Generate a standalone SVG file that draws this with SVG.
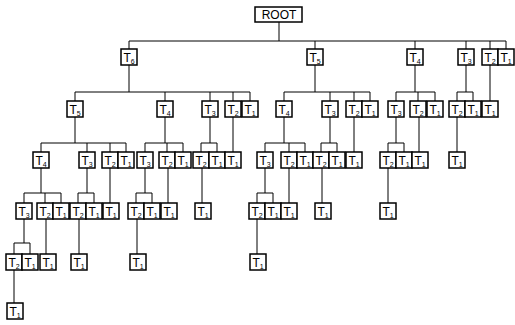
<svg xmlns="http://www.w3.org/2000/svg" width="515" height="325" viewBox="0 0 515 325">
<style>
.b{fill:#fff;stroke:#000;stroke-width:1.5}
.t{font-family:"Liberation Sans",Arial,sans-serif;font-size:12px;text-anchor:middle;fill:#000}
.s{font-size:7px}
.c{fill:none;stroke:#000;stroke-width:1}
</style>
<rect width="515" height="325" fill="#fff"/>
<g id="connectors">
<path class="c" d="M279 22V41M129 41H506M129 41V49M315 41V49M415 41V49M466 41V49M490 41V49M506 41V49"/>
<path class="c" d="M129 65V92M75 92H250M75 92V101M165 92V101M210 92V101M233 92V101M250 92V101
M315 65V92M284 92H370M284 92V101M330 92V101M354 92V101M370 92V101
M415 65V92M396 92H435M396 92V101M418 92V101M435 92V101
M466 65V92M457 92H473M457 92V101M473 92V101
M490 65V101"/>
<path class="c" d="M75 117V143M41 143H126M41 143V152M87 143V152M110 143V152M126 143V152
M165 117V143M145 143H183M145 143V152M167 143V152M183 143V152
M210 117V143M201 143H217M201 143V152M217 143V152
M233 117V152
M284 117V143M265 143H305M265 143V152M289 143V152M305 143V152
M330 117V143M321 143H337M321 143V152M337 143V152
M354 117V152
M396 117V143M388 143H404M388 143V152M404 143V152
M419 117V152
M457 117V152"/>
<path class="c" d="M41 168V193M24 193H61M24 193V203M45 193V203M61 193V203
M87 168V193M78 193H94M78 193V203M94 193V203
M110 168V203
M145 168V193M136 193H152M136 193V203M152 193V203
M168 168V203
M202 168V203
M265 168V193M257 193H273M257 193V203M273 193V203
M289 168V203
M322 168V203
M388 168V203"/>
<path class="c" d="M24 219V243M14 243H30M14 243V254M30 243V254
M46 219V254
M79 219V254
M137 219V254
M257 219V254
M14 270V303"/>
</g>
<g id="root"><rect class="b" x="255" y="7" width="47" height="15"/><text class="t" x="279" y="19" font-size="11">ROOT</text></g>
<!-- level 1 -->
<g id="a6"><rect class="b" x="121" y="49" width="16" height="16"/><text class="t" x="129" y="61.5">T<tspan class="s" dy="2">6</tspan></text></g>
<g id="a5"><rect class="b" x="307" y="49" width="16" height="16"/><text class="t" x="315" y="61.5">T<tspan class="s" dy="2">5</tspan></text></g>
<g id="a4"><rect class="b" x="407" y="49" width="16" height="16"/><text class="t" x="415" y="61.5">T<tspan class="s" dy="2">4</tspan></text></g>
<g id="a3"><rect class="b" x="458" y="49" width="16" height="16"/><text class="t" x="466" y="61.5">T<tspan class="s" dy="2">3</tspan></text></g>
<g id="a2"><rect class="b" x="482" y="49" width="16" height="16"/><text class="t" x="490" y="61.5">T<tspan class="s" dy="2">2</tspan></text></g>
<g id="a1"><rect class="b" x="498" y="49" width="16" height="16"/><text class="t" x="506" y="61.5">T<tspan class="s" dy="2">1</tspan></text></g>
<!-- level 2 -->
<g id="a65"><rect class="b" x="67" y="101" width="16" height="16"/><text class="t" x="75" y="113.5">T<tspan class="s" dy="2">5</tspan></text></g>
<g id="a64"><rect class="b" x="157" y="101" width="16" height="16"/><text class="t" x="165" y="113.5">T<tspan class="s" dy="2">4</tspan></text></g>
<g id="a63"><rect class="b" x="202" y="101" width="16" height="16"/><text class="t" x="210" y="113.5">T<tspan class="s" dy="2">3</tspan></text></g>
<g id="a62"><rect class="b" x="225" y="101" width="16" height="16"/><text class="t" x="233" y="113.5">T<tspan class="s" dy="2">2</tspan></text></g>
<g id="a61"><rect class="b" x="242" y="101" width="16" height="16"/><text class="t" x="250" y="113.5">T<tspan class="s" dy="2">1</tspan></text></g>
<g id="a54"><rect class="b" x="276" y="101" width="16" height="16"/><text class="t" x="284" y="113.5">T<tspan class="s" dy="2">4</tspan></text></g>
<g id="a53"><rect class="b" x="322" y="101" width="16" height="16"/><text class="t" x="330" y="113.5">T<tspan class="s" dy="2">3</tspan></text></g>
<g id="a52"><rect class="b" x="346" y="101" width="16" height="16"/><text class="t" x="354" y="113.5">T<tspan class="s" dy="2">2</tspan></text></g>
<g id="a51"><rect class="b" x="362" y="101" width="16" height="16"/><text class="t" x="370" y="113.5">T<tspan class="s" dy="2">1</tspan></text></g>
<g id="a43"><rect class="b" x="388" y="101" width="16" height="16"/><text class="t" x="396" y="113.5">T<tspan class="s" dy="2">3</tspan></text></g>
<g id="a42"><rect class="b" x="410" y="101" width="16" height="16"/><text class="t" x="418" y="113.5">T<tspan class="s" dy="2">2</tspan></text></g>
<g id="a41"><rect class="b" x="427" y="101" width="16" height="16"/><text class="t" x="435" y="113.5">T<tspan class="s" dy="2">1</tspan></text></g>
<g id="a32"><rect class="b" x="449" y="101" width="16" height="16"/><text class="t" x="457" y="113.5">T<tspan class="s" dy="2">2</tspan></text></g>
<g id="a31"><rect class="b" x="465" y="101" width="16" height="16"/><text class="t" x="473" y="113.5">T<tspan class="s" dy="2">1</tspan></text></g>
<g id="a21"><rect class="b" x="482" y="101" width="16" height="16"/><text class="t" x="490" y="113.5">T<tspan class="s" dy="2">1</tspan></text></g>
<!-- level 3 -->
<g id="a654"><rect class="b" x="33" y="152" width="16" height="16"/><text class="t" x="41" y="164.5">T<tspan class="s" dy="2">4</tspan></text></g>
<g id="a653"><rect class="b" x="79" y="152" width="16" height="16"/><text class="t" x="87" y="164.5">T<tspan class="s" dy="2">3</tspan></text></g>
<g id="a652"><rect class="b" x="102" y="152" width="16" height="16"/><text class="t" x="110" y="164.5">T<tspan class="s" dy="2">2</tspan></text></g>
<g id="a651"><rect class="b" x="118" y="152" width="16" height="16"/><text class="t" x="126" y="164.5">T<tspan class="s" dy="2">1</tspan></text></g>
<g id="a643"><rect class="b" x="137" y="152" width="16" height="16"/><text class="t" x="145" y="164.5">T<tspan class="s" dy="2">3</tspan></text></g>
<g id="a642"><rect class="b" x="159" y="152" width="16" height="16"/><text class="t" x="167" y="164.5">T<tspan class="s" dy="2">2</tspan></text></g>
<g id="a641"><rect class="b" x="175" y="152" width="16" height="16"/><text class="t" x="183" y="164.5">T<tspan class="s" dy="2">1</tspan></text></g>
<g id="a632"><rect class="b" x="193" y="152" width="16" height="16"/><text class="t" x="201" y="164.5">T<tspan class="s" dy="2">2</tspan></text></g>
<g id="a631"><rect class="b" x="209" y="152" width="16" height="16"/><text class="t" x="217" y="164.5">T<tspan class="s" dy="2">1</tspan></text></g>
<g id="a621"><rect class="b" x="225" y="152" width="16" height="16"/><text class="t" x="233" y="164.5">T<tspan class="s" dy="2">1</tspan></text></g>
<g id="a543"><rect class="b" x="257" y="152" width="16" height="16"/><text class="t" x="265" y="164.5">T<tspan class="s" dy="2">3</tspan></text></g>
<g id="a542"><rect class="b" x="281" y="152" width="16" height="16"/><text class="t" x="289" y="164.5">T<tspan class="s" dy="2">2</tspan></text></g>
<g id="a541"><rect class="b" x="297" y="152" width="16" height="16"/><text class="t" x="305" y="164.5">T<tspan class="s" dy="2">1</tspan></text></g>
<g id="a532"><rect class="b" x="313" y="152" width="16" height="16"/><text class="t" x="321" y="164.5">T<tspan class="s" dy="2">2</tspan></text></g>
<g id="a531"><rect class="b" x="329" y="152" width="16" height="16"/><text class="t" x="337" y="164.5">T<tspan class="s" dy="2">1</tspan></text></g>
<g id="a521"><rect class="b" x="346" y="152" width="16" height="16"/><text class="t" x="354" y="164.5">T<tspan class="s" dy="2">1</tspan></text></g>
<g id="a432"><rect class="b" x="380" y="152" width="16" height="16"/><text class="t" x="388" y="164.5">T<tspan class="s" dy="2">2</tspan></text></g>
<g id="a431"><rect class="b" x="396" y="152" width="16" height="16"/><text class="t" x="404" y="164.5">T<tspan class="s" dy="2">1</tspan></text></g>
<g id="a421"><rect class="b" x="412" y="152" width="16" height="16"/><text class="t" x="420" y="164.5">T<tspan class="s" dy="2">1</tspan></text></g>
<g id="a321"><rect class="b" x="449" y="152" width="16" height="16"/><text class="t" x="457" y="164.5">T<tspan class="s" dy="2">1</tspan></text></g>
<!-- level 4 -->
<g id="a6543"><rect class="b" x="16" y="203" width="16" height="16"/><text class="t" x="24" y="215.5">T<tspan class="s" dy="2">3</tspan></text></g>
<g id="a6542"><rect class="b" x="37" y="203" width="16" height="16"/><text class="t" x="45" y="215.5">T<tspan class="s" dy="2">2</tspan></text></g>
<g id="a6541"><rect class="b" x="53" y="203" width="16" height="16"/><text class="t" x="61" y="215.5">T<tspan class="s" dy="2">1</tspan></text></g>
<g id="a6532"><rect class="b" x="70" y="203" width="16" height="16"/><text class="t" x="78" y="215.5">T<tspan class="s" dy="2">2</tspan></text></g>
<g id="a6531"><rect class="b" x="86" y="203" width="16" height="16"/><text class="t" x="94" y="215.5">T<tspan class="s" dy="2">1</tspan></text></g>
<g id="a6521"><rect class="b" x="103" y="203" width="16" height="16"/><text class="t" x="111" y="215.5">T<tspan class="s" dy="2">1</tspan></text></g>
<g id="a6432"><rect class="b" x="128" y="203" width="16" height="16"/><text class="t" x="136" y="215.5">T<tspan class="s" dy="2">2</tspan></text></g>
<g id="a6431"><rect class="b" x="144" y="203" width="16" height="16"/><text class="t" x="152" y="215.5">T<tspan class="s" dy="2">1</tspan></text></g>
<g id="a6421"><rect class="b" x="161" y="203" width="16" height="16"/><text class="t" x="169" y="215.5">T<tspan class="s" dy="2">1</tspan></text></g>
<g id="a6321"><rect class="b" x="195" y="203" width="16" height="16"/><text class="t" x="203" y="215.5">T<tspan class="s" dy="2">1</tspan></text></g>
<g id="a5432"><rect class="b" x="249" y="203" width="16" height="16"/><text class="t" x="257" y="215.5">T<tspan class="s" dy="2">2</tspan></text></g>
<g id="a5431"><rect class="b" x="265" y="203" width="16" height="16"/><text class="t" x="273" y="215.5">T<tspan class="s" dy="2">1</tspan></text></g>
<g id="a5421"><rect class="b" x="281" y="203" width="16" height="16"/><text class="t" x="289" y="215.5">T<tspan class="s" dy="2">1</tspan></text></g>
<g id="a5321"><rect class="b" x="315" y="203" width="16" height="16"/><text class="t" x="323" y="215.5">T<tspan class="s" dy="2">1</tspan></text></g>
<g id="a4321"><rect class="b" x="380" y="203" width="16" height="16"/><text class="t" x="388" y="215.5">T<tspan class="s" dy="2">1</tspan></text></g>
<!-- level 5 -->
<g id="a65432"><rect class="b" x="6" y="254" width="16" height="16"/><text class="t" x="14" y="266.5">T<tspan class="s" dy="2">2</tspan></text></g>
<g id="a65431"><rect class="b" x="22" y="254" width="16" height="16"/><text class="t" x="30" y="266.5">T<tspan class="s" dy="2">1</tspan></text></g>
<g id="a65421"><rect class="b" x="40" y="254" width="16" height="16"/><text class="t" x="48" y="266.5">T<tspan class="s" dy="2">1</tspan></text></g>
<g id="a65321"><rect class="b" x="71" y="254" width="16" height="16"/><text class="t" x="79" y="266.5">T<tspan class="s" dy="2">1</tspan></text></g>
<g id="a64321"><rect class="b" x="130" y="254" width="16" height="16"/><text class="t" x="138" y="266.5">T<tspan class="s" dy="2">1</tspan></text></g>
<g id="a54321"><rect class="b" x="250" y="254" width="16" height="16"/><text class="t" x="258" y="266.5">T<tspan class="s" dy="2">1</tspan></text></g>
<!-- level 6 -->
<g id="a654321"><rect class="b" x="7" y="303" width="16" height="16"/><text class="t" x="15" y="315.5">T<tspan class="s" dy="2">1</tspan></text></g>
</svg>
